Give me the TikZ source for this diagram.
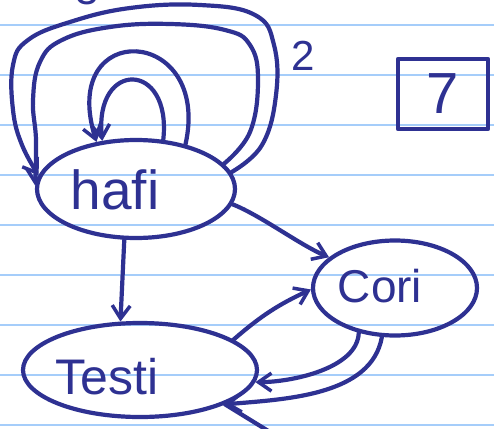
\documentclass[tikz,border=0pt]{standalone}
\usepackage{fontspec}
\setmainfont{Liberation Sans}
\usetikzlibrary{arrows.meta,shapes.geometric}
\definecolor{ink}{RGB}{46,49,146}
\definecolor{paperline}{RGB}{165,205,250}
\begin{document}
\begin{tikzpicture}[x=1pt,y=-1pt,
  inkline/.style={draw=ink, line width=4.2pt, line cap=round, line join=round},
  nodeell/.style={ellipse, inkline, inner sep=0pt},
  conn/.style={inkline, -{Straight Barb[length=13pt,width=18pt,line width=3.5pt]}},
  lbl/.style={text=ink, inner sep=0pt}]
\useasboundingbox[fill=white] (0,0) rectangle (494,428);
\clip (0,0) rectangle (494,428);
\foreach \y in {25,75,...,425} \draw[paperline, line width=2pt] (0,\y) -- (494,\y);

% states
\node[nodeell, minimum width=198pt, minimum height=98pt] (hafi) at (136,189) {};
\node[nodeell, minimum width=234pt, minimum height=94pt] (testi) at (140,370) {};
\node[nodeell, minimum width=164pt, minimum height=95pt] (cori) at (395,288) {};
\node[lbl, font=\fontsize{55}{55}\selectfont] (hafitext) at (115,190) {hafi};
\node[lbl, font=\fontsize{50}{50}\selectfont] (testitext) at (107,377) {Testi};
\node[lbl, font=\fontsize{46}{46}\selectfont] (coritext) at (380,286) {Cori};

% box with 7
\node[inkline, minimum width=90pt, minimum height=70pt, text=ink, font=\fontsize{58}{58}\selectfont] (box) at (443,94) {7};

% labels
\node[lbl, font=\fontsize{42}{42}\selectfont] (two) at (303,56) {2};
\node[lbl, font=\fontsize{42}{42}\selectfont] (three) at (87,-10) {3};

% connectors
\draw[conn] (hafi.-9) .. controls (260,215) and (300,245) .. (cori.155);
\draw[conn] (hafi.257) -- (testi.112);
\draw[conn] (testi.18) to[bend left=8] (cori.181);
\draw[conn] (cori.231) to[out=-92, in=0, looseness=0.8] (testi.-6);
\draw[conn] (cori.255) to[out=-100, in=5, looseness=0.9] (testi.-22);
\coordinate (tailend) at (270,432);
\draw[inkline] (testi.-22) -- (tailend);

% self loops
\draw[conn] (hafi.61) .. controls (172,60) and (94,60) .. (hafi.125);
\draw[conn] (hafi.42) .. controls (212,25) and (58,18) .. (hafi.130);
\draw[conn] plot[smooth, tension=0.7] coordinates {(hafi.10) (262,145) (276,95) (274,45) (255,15) (200,5) (130,8) (70,22) (28,40) (13,65) (13,110) (22,145) (hafi.172)};
\draw[conn] plot[smooth, tension=0.7] coordinates {(hafi.16) (250,132) (258,80) (250,45) (225,30) (170,24) (110,27) (62,40) (40,62) (33,100) (36,140) (hafi.178)};
\end{tikzpicture}
\end{document}
